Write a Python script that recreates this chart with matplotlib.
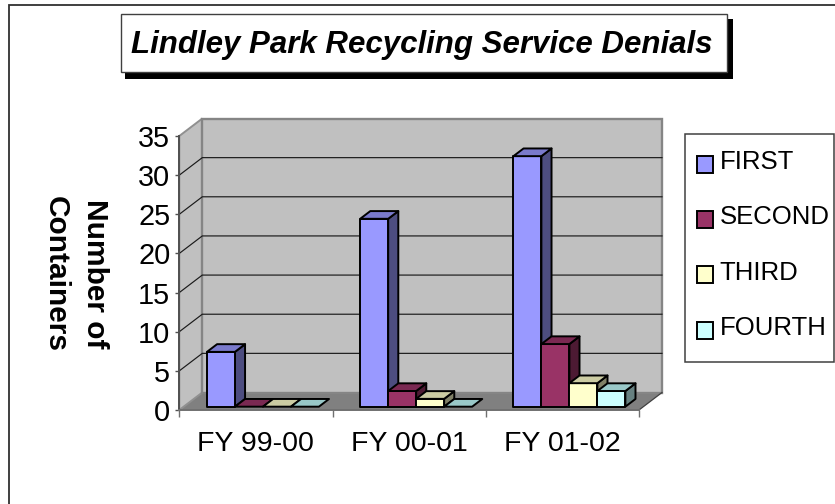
import matplotlib
matplotlib.use("Agg")
import matplotlib.pyplot as plt
from matplotlib.legend_handler import HandlerPatch
from matplotlib.patches import Polygon, Rectangle

plt.rcParams["font.family"] = ["Liberation Sans", "DejaVu Sans"]

W, H = 835, 504

years = ["FY 99-00", "FY 00-01", "FY 01-02"]
series = ["FIRST", "SECOND", "THIRD", "FOURTH"]
first = [7, 24, 32]
second = [0, 2, 8]
third = [0, 1, 3]
fourth = [0, 0, 2]
y_ticks = [0, 5, 10, 15, 20, 25, 30, 35]

front_colors = ["#9999FF", "#993366", "#FFFFCC", "#CCFFFF"]
top_colors = ["#7A7ACC", "#7A2952", "#CCCCA3", "#99C8C8"]
side_colors = ["#4D4D80", "#4D1A33", "#808066", "#668080"]

# how far the back wall is shifted from the front plane, in data units
DX = 23 / 153.3
DY = 17.5 / 7.83
BAR_W = 28 / 153.3
BAR_GAP = 0.152
Z0, Z1 = 0.19, 0.63


def px_box(left, top, right, bottom, **kw):
    r = Rectangle((left / W, 1 - bottom / H), (right - left) / W, (bottom - top) / H,
                  transform=fig.transFigure, **kw)
    fig.add_artist(r)
    return r


def depth(x, y, z):
    return (x + z * DX, y + z * DY)


def draw_bar(ax, x0, value, i):
    x1 = x0 + BAR_W
    edge = dict(edgecolor="black", linewidth=1.4, joinstyle="round", clip_on=False, zorder=5)
    front = [depth(x0, 0, Z0), depth(x1, 0, Z0), depth(x1, value, Z0), depth(x0, value, Z0)]
    top = [depth(x0, value, Z0), depth(x1, value, Z0), depth(x1, value, Z1), depth(x0, value, Z1)]
    side = [depth(x1, 0, Z0), depth(x1, 0, Z1), depth(x1, value, Z1), depth(x1, value, Z0)]
    if value > 0:
        ax.add_patch(Polygon(side, facecolor=side_colors[i], **edge))
        ax.add_patch(Polygon(front, facecolor=front_colors[i], **edge))
    ax.add_patch(Polygon(top, facecolor=top_colors[i], **edge))


def low_swatch(legend, orig_handle, xdescent, ydescent, width, height, fontsize):
    # the swatches sit a little below the label text
    return Rectangle((-xdescent, -ydescent - 3), width, height)


fig = plt.figure(figsize=(W / 100, H / 100), dpi=100, facecolor="white")

# outer chart frame runs off the right and bottom of the picture
px_box(9, 4.5, W + 20, H + 20, facecolor="white", edgecolor="#303030", linewidth=1.3, zorder=-1)

# front plane of the 3d box
left, right, top, bottom = 179.3, 639, 136, 410
ax = fig.add_axes([left / W, 1 - bottom / H, (right - left) / W, (bottom - top) / H])
ax.set_xlim(0, 3)
ax.set_ylim(0, 35)
ax.patch.set_visible(False)

# floor, side wall, back wall
ax.add_patch(Polygon([(0, 0), (3, 0), (3 + DX, DY), (DX, DY)], facecolor="#808080",
                     edgecolor="none", clip_on=False, zorder=1))
ax.add_patch(Polygon([(0, 0), (DX, DY), (DX, 35 + DY), (0, 35)], facecolor="#C0C0C0",
                     edgecolor="#909090", linewidth=1.4, clip_on=False, zorder=1))
ax.add_patch(Polygon([(DX, DY), (3 + DX, DY), (3 + DX, 35 + DY), (DX, 35 + DY)], facecolor="#C0C0C0",
                     edgecolor="#858585", linewidth=1.7, clip_on=False, zorder=1))
ax.plot([3, 3 + DX], [0, DY], color="#404040", lw=0.9, clip_on=False, zorder=2)

for v in y_ticks[1:-1]:
    ax.plot([0, DX, 3 + DX], [v, v + DY, v + DY], color="#1A1A1A", lw=0.85, clip_on=False, zorder=2)

for g in range(len(years)):
    for i, vals in enumerate([first, second, third, fourth]):
        draw_bar(ax, g + BAR_GAP + i * BAR_W, vals[g], i)

for s in ["top", "right"]:
    ax.spines[s].set_visible(False)
ax.spines["left"].set_color("#505050")
ax.spines["left"].set_linewidth(1.4)
ax.spines["bottom"].set_color("#707070")
ax.spines["bottom"].set_linewidth(1.4)
ax.spines["left"].set_zorder(3)
ax.spines["bottom"].set_zorder(3)

ax.set_yticks(y_ticks)
ax.tick_params(axis="y", labelsize=20.8, length=3, width=1, color="#505050", pad=3.5)
ax.set_xticks([0, 1, 2, 3])
ax.set_xticklabels([])
ax.set_xticks([0.5, 1.5, 2.5], minor=True)
ax.set_xticklabels(years, minor=True)
ax.tick_params(axis="x", which="major", length=5, width=1, color="#707070")
ax.tick_params(axis="x", which="minor", length=0, labelsize=20.5, pad=15)

fig.text(75 / W, 1 - 274 / H, "Number of\nContainers", rotation=-90, ha="center", va="center",
         multialignment="center", fontsize=21.5, fontweight="bold", linespacing=1.5)

# title box with its drop shadow
px_box(125, 19, 732.7, 78.7, facecolor="black", edgecolor="none")
px_box(120.7, 14.3, 726.7, 72.3, facecolor="white", edgecolor="#404040", linewidth=1)
fig.text(422 / W, 1 - 45 / H, "Lindley Park Recycling Service Denials", ha="center", va="center",
         fontsize=22.5, fontweight="bold", fontstyle="italic")

# legend
px_box(685, 134.5, 834.3, 362.3, facecolor="white", edgecolor="#404040", linewidth=1.1)
handles = [Rectangle((0, 0), 1, 1, facecolor=c, edgecolor="black", linewidth=1.4) for c in front_colors]
fig.legend(handles, series, loc="upper left", bbox_to_anchor=(696.7 / W, 1 - 150 / H),
           frameon=False, fontsize=18.5, handlelength=0.65, handleheight=0.65,
           handletextpad=0.25, labelspacing=1.22, borderpad=0, borderaxespad=0,
           handler_map={Rectangle: HandlerPatch(patch_func=low_swatch)})

fig.savefig("out.png", dpi=100)
